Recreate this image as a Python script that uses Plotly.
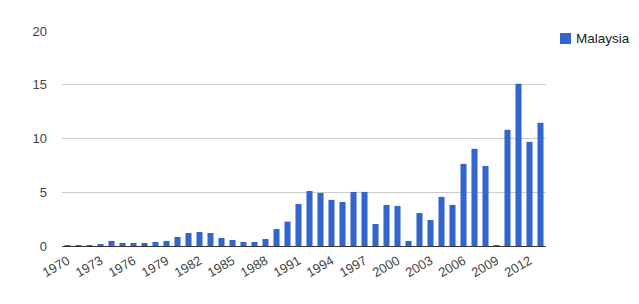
import plotly.graph_objects as go

years = list(range(1970, 2014))
values = [0.05, 0.05, 0.05, 0.12, 0.47, 0.28, 0.28, 0.28, 0.37, 0.47,
          0.84, 1.21, 1.30, 1.21, 0.75, 0.56, 0.37, 0.37, 0.65, 1.58,
          2.27, 3.91, 5.12, 4.94, 4.29, 4.10, 5.03, 5.03, 2.05, 3.82,
          3.73, 0.47, 3.07, 2.42, 4.57, 3.82, 7.64, 9.04, 7.45, 0.09,
          10.81, 15.09, 9.69, 11.46]
tick_years = list(range(1970, 2014, 3))
y_ticks = [0, 5, 10, 15, 20]
series_name = "Malaysia"
bar_color = "#3366cc"

fig = go.Figure()
fig.add_trace(go.Bar(x=years, y=values, name=series_name, showlegend=False,
                     marker=dict(color=bar_color, line=dict(width=0))))

# legend drawn as a swatch + label (Google Charts style)
fig.add_shape(type="rect", xref="paper", yref="paper",
              x0=1.0289, x1=1.0517, y0=0.9395, y1=0.9907,
              fillcolor=bar_color, line=dict(width=0))
fig.add_annotation(text=series_name, xref="paper", yref="paper",
                   x=1.058, y=0.966, xanchor="left", yanchor="middle",
                   showarrow=False, font=dict(size=13.5, color="#222222"))

fig.update_layout(
    width=631, height=296,
    margin=dict(l=54, r=93, t=23, b=58, autoexpand=False),
    paper_bgcolor="white", plot_bgcolor="white",
    font=dict(family="Liberation Sans, Arial, sans-serif", size=13, color="#444444"),
    bargap=0.45,
    showlegend=False,
    xaxis=dict(range=[1969.5, 2013.5], tickmode="array", tickvals=tick_years,
               ticktext=[str(t) for t in tick_years], tickangle=-30,
               showgrid=False, showline=False, zeroline=False, ticks="",
               ticklabelstandoff=4, fixedrange=True, automargin=False),
    yaxis=dict(range=[0, 20], tickvals=y_ticks, showgrid=True, gridcolor="#cccccc",
               zeroline=True, zerolinecolor="#333333", zerolinewidth=1,
               ticks="", ticklabelstandoff=14, fixedrange=True, automargin=False),
)

fig.write_html("out.html")
